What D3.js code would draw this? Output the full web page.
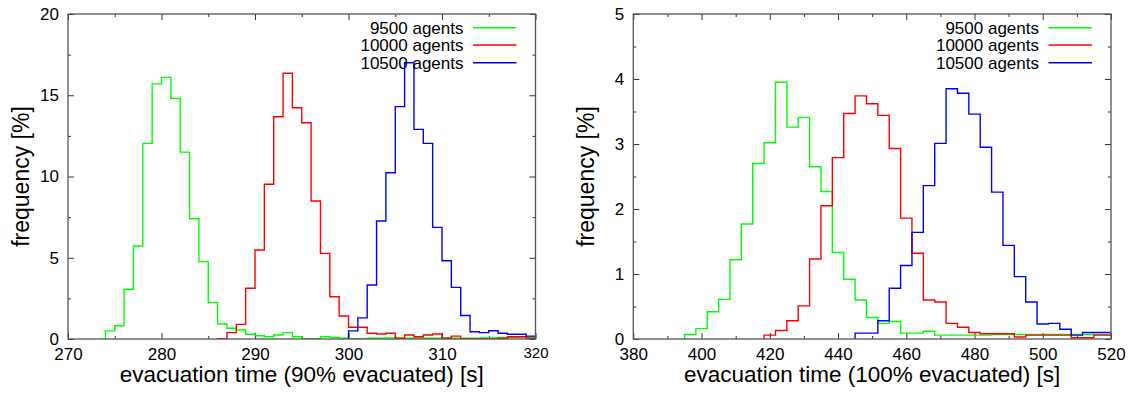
<!DOCTYPE html>
<html><head><meta charset="utf-8">
<script src="https://cdn.jsdelivr.net/npm/d3@7"></script>
<style>
body{margin:0;background:#fff}
svg{display:block}
text{font-family:"Liberation Sans",Arial,Helvetica,sans-serif;fill:#000}
</style>
</head><body>
<svg id="chart" width="1138" height="394"></svg>
<script>
// ---------- data ----------
const seriesNames = ["9500 agents", "10000 agents", "10500 agents"];
const seriesColors = ["#00ff00", "#ff0000", "#0000ff"];

// Left panel: 90% evacuated, bin width 1 s
const p1XTicks = [270, 280, 290, 300, 310, 320];
const p1YTicks = [0, 5, 10, 15, 20];
const p1BinWidth = 1;
const p1Starts = [274, 286, 300];
const p1Green = [0.5, 0.82, 3.06, 5.72, 12.04, 15.7, 16.1, 14.8, 11.5, 7.4, 4.76, 2.24, 0.92, 0.66, 0.55, 0.29, 0.2, 0.14, 0.25, 0.39, 0.14, 0.02, 0.02, 0.14, 0.1, 0.05, 0.02, 0.02, 0.05, 0.05, 0.07, 0.05, 0.05, 0.07, 0.05, 0.05, 0.07, 0.05, 0.05, 0.05, 0.07, 0.07, 0.1, 0.1, 0.12, 0.12];
const p1Red = [0.02, 0.39, 0.9, 3.12, 5.48, 9.52, 13.68, 16.35, 14.23, 13.31, 8.49, 5.27, 2.6, 1.42, 0.72, 0.72, 0.35, 0.31, 0.35, 0.05, 0.25, 0.14, 0.25, 0.31, 0.05, 0.18, 0.02, 0.02, 0.02, 0.02, 0.05, 0.14, 0.14, 0.05];
const p1Blue = [0.5, 1.3, 3.32, 7.26, 10.23, 14.3, 17.0, 12.9, 12.04, 6.87, 4.82, 3.18, 1.45, 0.45, 0.39, 0.51, 0.35, 0.29, 0.29, 0.18];

// Right panel: 100% evacuated, bin width 10/3 s
const p2XTicks = [380, 400, 420, 440, 460, 480, 500, 520];
const p2YTicks = [0, 1, 2, 3, 4, 5];
const p2BinWidth = 10 / 3;
const p2Starts = [395, 418.333, 445];
const p2Green = [0.07, 0.16, 0.42, 0.61, 1.22, 1.77, 2.7, 3.02, 3.95, 3.26, 3.41, 2.65, 2.27, 1.33, 0.92, 0.6, 0.33, 0.24, 0.27, 0.09, 0.09, 0.12, 0.06, 0.06, 0.06, 0.06, 0.06, 0.07, 0.07, 0.07, 0.07, 0.07, 0.07, 0.07, 0.07, 0.07, 0.07, 0.07];
const p2Red = [0.06, 0.13, 0.28, 0.51, 1.23, 2.05, 2.79, 3.47, 3.74, 3.62, 3.44, 2.93, 1.86, 1.32, 0.6, 0.57, 0.24, 0.18, 0.1, 0.08, 0.08, 0.08, 0.03, 0.06, 0.06, 0.06, 0.06, 0.02, 0.02, 0.06, 0.06];
const p2Blue = [0.09, 0.09, 0.28, 0.78, 1.13, 1.64, 2.36, 3.01, 3.85, 3.78, 3.46, 2.95, 2.26, 1.44, 0.96, 0.57, 0.23, 0.24, 0.15, 0.06, 0.1, 0.1, 0.1];

const p1XLabel = "evacuation time (90% evacuated) [s]";
const p2XLabel = "evacuation time (100% evacuated) [s]";
const yLabel = "frequency [%]";

// ---------- drawing ----------
const svg = d3.select("#chart");

const panels = [
  { box: {l: 68, r: 535.5, t: 14, b: 339}, xDom: [270, 320], yDom: [0, 20],
    xTicks: p1XTicks, yTicks: p1YTicks, xMinorStep: 5, yMinorStep: 2.5,
    binW: p1BinWidth, starts: p1Starts, series: [p1Green, p1Red, p1Blue],
    xLabel: p1XLabel, odd: 320 },
  { box: {l: 633.3, r: 1111, t: 14, b: 339}, xDom: [380, 520], yDom: [0, 5],
    xTicks: p2XTicks, yTicks: p2YTicks, xMinorStep: 10, yMinorStep: 0.5,
    binW: p2BinWidth, starts: p2Starts, series: [p2Green, p2Red, p2Blue],
    xLabel: p2XLabel, odd: null }
];

panels.forEach((p, pi) => {
  const {l, r, t, b} = p.box;
  const x = d3.scaleLinear().domain(p.xDom).range([l, r]);
  const y = d3.scaleLinear().domain(p.yDom).range([b, t]);
  const g = svg.append("g");

  const clipId = "clip" + pi;
  svg.append("clipPath").attr("id", clipId)
    .append("rect").attr("x", l).attr("y", t).attr("width", r - l).attr("height", b - t);

  const xMinor = d3.range(p.xDom[0], p.xDom[1] + 1e-9, p.xMinorStep).filter(v => !p.xTicks.includes(v));
  const yMinor = d3.range(p.yDom[0], p.yDom[1] + 1e-9, p.yMinorStep).filter(v => !p.yTicks.some(tk => Math.abs(tk - v) < 1e-9));

  const styleAxis = sel => {
    sel.select(".domain").remove();
    sel.selectAll(".tick line").attr("stroke", "#333").attr("stroke-width", 1);
  };

  // bottom
  g.append("g").attr("transform", `translate(0,${b})`)
    .call(d3.axisBottom(x).tickValues(p.xTicks).tickSize(-6).tickPadding(4).tickFormat(d3.format("d")))
    .call(styleAxis)
    .call(s => s.selectAll("text").attr("font-size", 17).attr("fill", "#000")
      .attr("font-family", '"Liberation Sans",Arial,sans-serif').attr("dy", "1.0em"));
  g.append("g").attr("transform", `translate(0,${b})`)
    .call(d3.axisBottom(x).tickValues(xMinor).tickSize(-3).tickFormat(""))
    .call(styleAxis);
  // top
  g.append("g").attr("transform", `translate(0,${t})`)
    .call(d3.axisTop(x).tickValues(p.xTicks).tickSize(-6).tickFormat(""))
    .call(styleAxis);
  g.append("g").attr("transform", `translate(0,${t})`)
    .call(d3.axisTop(x).tickValues(xMinor).tickSize(-3).tickFormat(""))
    .call(styleAxis);
  // left
  g.append("g").attr("transform", `translate(${l},0)`)
    .call(d3.axisLeft(y).tickValues(p.yTicks).tickSize(-6).tickPadding(9).tickFormat(d3.format("d")))
    .call(styleAxis)
    .call(s => s.selectAll("text").attr("font-size", 17).attr("fill", "#000")
      .attr("font-family", '"Liberation Sans",Arial,sans-serif'));
  g.append("g").attr("transform", `translate(${l},0)`)
    .call(d3.axisLeft(y).tickValues(yMinor).tickSize(-3).tickFormat(""))
    .call(styleAxis);
  // right
  g.append("g").attr("transform", `translate(${r},0)`)
    .call(d3.axisRight(y).tickValues(p.yTicks).tickSize(-6).tickFormat(""))
    .call(styleAxis);
  g.append("g").attr("transform", `translate(${r},0)`)
    .call(d3.axisRight(y).tickValues(yMinor).tickSize(-3).tickFormat(""))
    .call(styleAxis);

  if (p.odd !== null) {
    g.selectAll("text").filter(d => d === p.odd)
      .attr("font-family", '"Liberation Serif","Times New Roman",serif')
      .attr("font-size", 15).attr("fill", "#555");
  }

  // histogram step lines
  const line = d3.line().x(d => x(d[0])).y(d => y(d[1]));
  p.series.forEach((vals, si) => {
    const start = p.starts[si];
    const pts = [[start, 0]];
    vals.forEach((v, i) => {
      pts.push([start + i * p.binW, v]);
      pts.push([start + (i + 1) * p.binW, v]);
    });
    g.append("path").attr("d", line(pts))
      .attr("clip-path", `url(#${clipId})`)
      .attr("fill", "none").attr("stroke", seriesColors[si])
      .attr("stroke-width", 1.4).attr("stroke-linejoin", "miter");
  });

  // frame
  g.append("rect").attr("x", l).attr("y", t).attr("width", r - l).attr("height", b - t)
    .attr("fill", "none").attr("stroke", "#555").attr("stroke-width", 1.3);

  // legend
  const legRows = [27.7, 45, 62.7];
  seriesNames.forEach((name, si) => {
    g.append("text").attr("x", r - 72).attr("y", legRows[si]).attr("dy", "0.35em")
      .attr("text-anchor", "end").attr("font-size", 17).text(name);
    g.append("line").attr("x1", r - 62.5).attr("x2", r - 19)
      .attr("y1", legRows[si]).attr("y2", legRows[si])
      .attr("stroke", seriesColors[si]).attr("stroke-width", 1.4);
  });

  // axis titles
  g.append("text").attr("x", (l + r) / 2).attr("y", 382)
    .attr("text-anchor", "middle").attr("font-size", 22.5).text(p.xLabel);
  g.append("text").attr("transform", `translate(${l - 39.5},${(t + b) / 2}) rotate(-90)`)
    .attr("text-anchor", "middle").attr("font-size", 23).text(yLabel);
});
</script>
</body></html>
